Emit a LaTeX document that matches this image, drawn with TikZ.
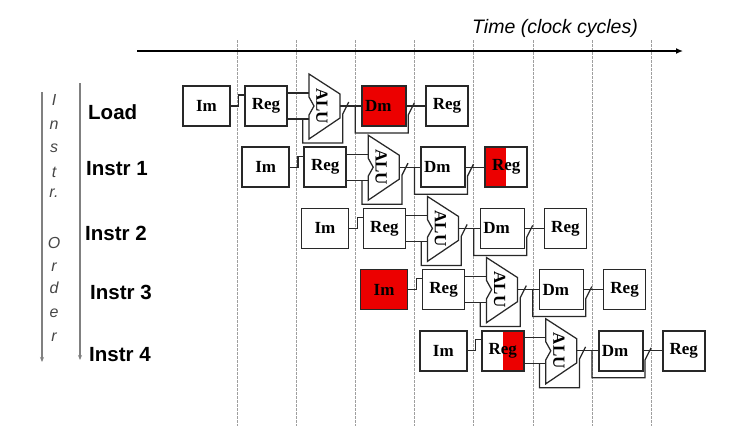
\documentclass[tikz,border=0pt]{standalone}
\usepackage{fontspec}
\setmainfont{Liberation Serif}
\setsansfont{Liberation Sans}
\usepackage{xcolor}
\usepackage{tikz}
\usetikzlibrary{arrows.meta, positioning}
\definecolor{hazRed}{RGB}{236, 0, 0}
\definecolor{wireGray}{RGB}{40, 40, 40}
\definecolor{ordGray}{RGB}{70, 70, 70}

\begin{document}
\begin{tikzpicture}[x=1pt, y=-1pt,
    wire/.style={draw=wireGray, line width=1.25pt},
    stage/.style={draw=wireGray, line width=1.5pt, fill=white, minimum height=40pt, inner sep=0pt,
        font=\fontsize{17}{19}\selectfont\bfseries},
    plain/.style={},
    hot/.style={fill=hazRed},
    hotleft/.style={path picture={\fill[hazRed] (path picture bounding box.north west) rectangle (path picture bounding box.south);}},
    hotright/.style={path picture={\fill[hazRed] (path picture bounding box.north) rectangle (path picture bounding box.south east);}},
    rowlab/.style={anchor=west, inner sep=0pt, font=\fontsize{20.5}{22}\selectfont\sffamily\bfseries},
    ordlab/.style={inner sep=0pt, text=ordGray, font=\fontsize{16}{18}\selectfont\sffamily\itshape},
    cycle line/.style={gray!75, line width=0.7pt, dash pattern=on 2.5pt off 1.5pt}]
    \useasboundingbox (0,0) rectangle (739,442);
    \foreach \k in {0,...,7}
        \draw[cycle line] (237+59.2*\k,40) -- (237+59.2*\k,426);
    \coordinate (tStart) at (137,51);
    \coordinate (tEnd) at (683,51);
    \draw[line width=1.3pt, -{Latex[length=7pt,width=6pt]}] (tStart) -- (tEnd);
    \node[font=\fontsize{19.5}{22}\selectfont\sffamily\itshape] (time) at (555,28) {Time (clock cycles)};
    \coordinate (ordTop) at (42,92);
    \coordinate (ordBot) at (42,362);
    \coordinate (rowTop) at (80,83);
    \coordinate (rowBot) at (80,360);
    \draw[gray, line width=1.3pt, -{Stealth[length=5pt,width=4pt]}] (ordTop) -- (ordBot);
    \draw[gray, line width=1.3pt, -{Stealth[length=5pt,width=4pt]}] (rowTop) -- (rowBot);
    \foreach \ch/\y [count=\k] in {I/100, n/125, s/148, t/172, r./193, O/243, r/267, d/288, e/313, r/337}
        \node[ordlab] (ord\k) at (54,\y) {\ch};
    \foreach \i/\name/\lx/\ly/\ims/\rgs/\dms/\wbs in {
        0/Load/88/112/plain/plain/hot/plain,
        1/Instr 1/86/169/plain/plain/plain/hotleft,
        2/Instr 2/85/233/plain/plain/plain/plain,
        3/Instr 3/90/292/hot/plain/plain/plain,
        4/Instr 4/89/355/plain/hotright/plain/plain} {
        \pgfmathsetmacro{\xo}{183+59.2*\i}
        \pgfmathsetmacro{\yc}{106+61.2*\i}
        \node[rowlab] (lab\i) at (\lx,\ly) {\name};
        \node[stage, minimum width=47pt, \ims] (im\i) at (\xo+23.5,\yc) {Im};
        \node[stage, minimum width=42pt, \rgs] (rg\i) at (\xo+83,\yc) {Reg};
        \filldraw[wire, fill=white] (\xo+126,\yc-32) -- (\xo+157,\yc-12) -- (\xo+157,\yc+12)
            -- (\xo+126,\yc+33) -- (\xo+126,\yc+9) -- (\xo+131,\yc) -- (\xo+126,\yc-9) -- cycle;
        \node[rotate=-90, inner sep=0pt, font=\fontsize{17}{19}\selectfont\bfseries] (alu\i) at (\xo+139,\yc) {ALU};
        \coordinate (aluA\i) at (\xo+126,\yc-13);
        \coordinate (aluB\i) at (\xo+126,\yc+13);
        \coordinate (aluO\i) at (\xo+157,\yc);
        \node[stage, text width=38pt, inner xsep=3pt, align=left, \dms] (dm\i) at (\xo+201,\yc) {Dm};
        \node[stage, minimum width=42pt, \wbs] (wb\i) at (\xo+264,\yc) {Reg};
        \draw[wire] (im\i.east) -- ++(8,0) |- ([yshift=11pt]rg\i.west);
        \draw[wire] ([yshift=13pt]rg\i.east) -- (aluA\i);
        \draw[wire] ([yshift=-13pt]rg\i.east) -- (aluB\i);
        \draw[wire] ([shift={(15pt,-13pt)}]rg\i.east) -- ++(0,24) -| ++(40,-29) -- ++(6,-12);
        \draw[wire] (aluO\i) -- (dm\i.west);
        \draw[wire] ([xshift=-6pt]dm\i.west) -- ++(0,27) -| ++(53,-18) -- ++(6,-12);
        \draw[wire] (dm\i.east) -- (wb\i.west);
    }
\end{tikzpicture}
\end{document}
